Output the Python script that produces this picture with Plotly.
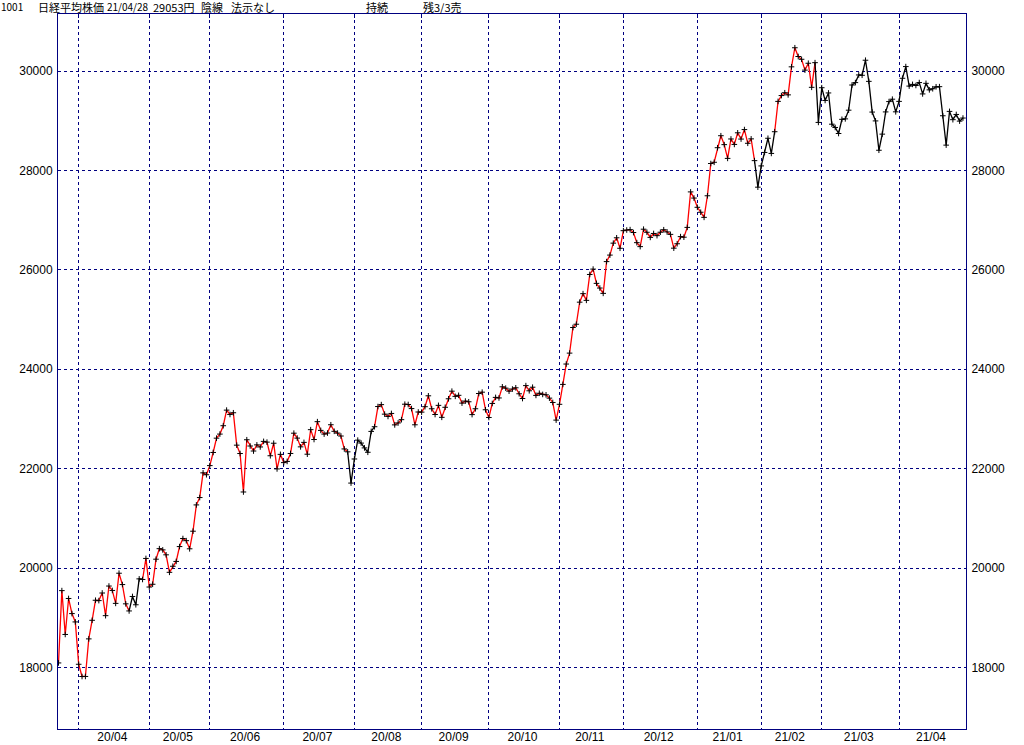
import plotly.graph_objects as go

dates = [
 "2020-03-24","2020-03-25","2020-03-26","2020-03-27","2020-03-30","2020-03-31",
 "2020-04-01","2020-04-02","2020-04-03","2020-04-06","2020-04-07","2020-04-08","2020-04-09","2020-04-10",
 "2020-04-13","2020-04-14","2020-04-15","2020-04-16","2020-04-17","2020-04-20","2020-04-21","2020-04-22",
 "2020-04-23","2020-04-24","2020-04-27","2020-04-28","2020-04-30",
 "2020-05-01","2020-05-07","2020-05-08","2020-05-11","2020-05-12","2020-05-13","2020-05-14","2020-05-15",
 "2020-05-18","2020-05-19","2020-05-20","2020-05-21","2020-05-22","2020-05-25","2020-05-26","2020-05-27",
 "2020-05-28","2020-05-29",
 "2020-06-01","2020-06-02","2020-06-03","2020-06-04","2020-06-05","2020-06-08","2020-06-09","2020-06-10",
 "2020-06-11","2020-06-12","2020-06-15","2020-06-16","2020-06-17","2020-06-18","2020-06-19","2020-06-22",
 "2020-06-23","2020-06-24","2020-06-25","2020-06-26","2020-06-29","2020-06-30",
 "2020-07-01","2020-07-02","2020-07-03","2020-07-06","2020-07-07","2020-07-08","2020-07-09","2020-07-10",
 "2020-07-13","2020-07-14","2020-07-15","2020-07-16","2020-07-17","2020-07-20","2020-07-21","2020-07-22",
 "2020-07-27","2020-07-28","2020-07-29","2020-07-30","2020-07-31",
 "2020-08-03","2020-08-04","2020-08-05","2020-08-06","2020-08-07","2020-08-11","2020-08-12","2020-08-13",
 "2020-08-14","2020-08-17","2020-08-18","2020-08-19","2020-08-20","2020-08-21","2020-08-24","2020-08-25",
 "2020-08-26","2020-08-27","2020-08-28","2020-08-31",
 "2020-09-01","2020-09-02","2020-09-03","2020-09-04","2020-09-07","2020-09-08","2020-09-09","2020-09-10",
 "2020-09-11","2020-09-14","2020-09-15","2020-09-16","2020-09-17","2020-09-18","2020-09-23","2020-09-24",
 "2020-09-25","2020-09-28","2020-09-29","2020-09-30",
 "2020-10-02","2020-10-05","2020-10-06","2020-10-07","2020-10-08","2020-10-09","2020-10-12","2020-10-13",
 "2020-10-14","2020-10-15","2020-10-16","2020-10-19","2020-10-20","2020-10-21","2020-10-22","2020-10-23",
 "2020-10-26","2020-10-27","2020-10-28","2020-10-29","2020-10-30",
 "2020-11-02","2020-11-04","2020-11-05","2020-11-06","2020-11-09","2020-11-10","2020-11-11","2020-11-12",
 "2020-11-13","2020-11-16","2020-11-17","2020-11-18","2020-11-19","2020-11-20","2020-11-24","2020-11-25",
 "2020-11-26","2020-11-27","2020-11-30",
 "2020-12-01","2020-12-02","2020-12-03","2020-12-04","2020-12-07","2020-12-08","2020-12-09","2020-12-10",
 "2020-12-11","2020-12-14","2020-12-15","2020-12-16","2020-12-17","2020-12-18","2020-12-21","2020-12-22",
 "2020-12-23","2020-12-24","2020-12-25","2020-12-28","2020-12-29","2020-12-30",
 "2021-01-04","2021-01-05","2021-01-06","2021-01-07","2021-01-08","2021-01-12","2021-01-13","2021-01-14",
 "2021-01-15","2021-01-18","2021-01-19","2021-01-20","2021-01-21","2021-01-22","2021-01-25","2021-01-26",
 "2021-01-27","2021-01-28","2021-01-29",
 "2021-02-01","2021-02-02","2021-02-03","2021-02-04","2021-02-05","2021-02-08","2021-02-09","2021-02-10",
 "2021-02-12","2021-02-15","2021-02-16","2021-02-17","2021-02-18","2021-02-19","2021-02-22","2021-02-24",
 "2021-02-25","2021-02-26",
 "2021-03-01","2021-03-02","2021-03-03","2021-03-04","2021-03-05","2021-03-08","2021-03-09","2021-03-10",
 "2021-03-11","2021-03-12","2021-03-15","2021-03-16","2021-03-17","2021-03-18","2021-03-19","2021-03-22",
 "2021-03-23","2021-03-24","2021-03-25","2021-03-26","2021-03-29","2021-03-30","2021-03-31",
 "2021-04-01","2021-04-02","2021-04-05","2021-04-06","2021-04-07","2021-04-08","2021-04-09","2021-04-12",
 "2021-04-13","2021-04-14","2021-04-15","2021-04-16","2021-04-19","2021-04-20","2021-04-21","2021-04-22",
 "2021-04-23","2021-04-26","2021-04-27","2021-04-28",
]

closes = [
 18092, 19547, 18665, 19389, 19085, 18917,
 18065, 17819, 17820, 18576, 18950, 19353, 19346, 19499, 19043, 19639, 19550, 19290, 19897, 19669,
 19281, 19138, 19429, 19262, 19783, 19771, 20194,
 19619, 19675, 20179, 20391, 20366, 20267, 19915, 20037, 20134, 20433, 20595, 20552, 20388, 20742,
 21271, 21419, 21916, 21878,
 22062, 22326, 22614, 22696, 22864, 23178, 23091, 23125, 22473, 22305, 21531, 22582, 22456, 22355,
 22479, 22437, 22549, 22534, 22260, 22512, 21995, 22288,
 22122, 22146, 22306, 22714, 22615, 22439, 22529, 22291, 22785, 22587, 22946, 22770, 22696, 22717,
 22884, 22752, 22716, 22657, 22397, 22339, 21710,
 22195, 22574, 22515, 22418, 22330, 22750, 22844, 23250, 23289, 23097, 23051, 23111, 22881, 22920,
 22986, 23297, 23291, 23209, 22883, 23140,
 23138, 23247, 23466, 23205, 23090, 23274, 23033, 23235, 23406, 23559, 23455, 23476, 23319, 23360,
 23346, 23088, 23205, 23512, 23539, 23185,
 23030, 23312, 23434, 23423, 23647, 23620, 23559, 23602, 23627, 23507, 23411, 23671, 23567, 23639,
 23474, 23517, 23494, 23486, 23419, 23332, 22977,
 23295, 23695, 24105, 24325, 24840, 24906, 25350, 25521, 25386, 25907, 26015, 25728, 25634, 25527,
 26166, 26297, 26537, 26645, 26434,
 26788, 26801, 26809, 26751, 26547, 26467, 26818, 26756, 26653, 26732, 26688, 26757, 26807, 26763,
 26714, 26436, 26525, 26668, 26657, 26854, 27568, 27444,
 27258, 27159, 27056, 27490, 28139, 28164, 28457, 28698, 28519, 28242, 28633, 28523, 28757, 28631,
 28822, 28546, 28635, 28197, 27663,
 28091, 28362, 28647, 28342, 28779, 29389, 29506, 29563, 29520, 30084, 30468, 30292, 30236, 30018,
 30156, 29672, 30168, 28966,
 29664, 29408, 29559, 28930, 28864, 28743, 29028, 29037, 29212, 29718, 29767, 29921, 29914, 30217,
 29792, 29174, 28996, 28406, 28730, 29177, 29385, 29433, 29179,
 29389, 29854, 30089, 29697, 29731, 29709, 29768, 29539, 29752, 29621, 29643, 29683, 29685, 29100,
 28509, 29188, 29021, 29126, 28992, 29054,
]

# periods where the line is drawn black (sell state); elsewhere red
black_spans = [
 ("2020-04-22", "2020-04-28"),
 ("2020-07-30", "2020-08-12"),
 ("2021-01-28", "2021-02-05"),
 ("2021-02-25", "2021-04-28"),
]

y_ticks = [18000, 20000, 22000, 24000, 26000, 28000, 30000]
y_ticktext = [str(v) for v in y_ticks]

header_parts = ["1001", "日経平均株価", "21/04/28", "29053円", "陰線", "法示なし", "持続", "残3/3売"]
header_px = [0, 37, 106, 152, 200, 230, 365, 422]

NAVY = "#000080"
N = len(dates)
idx = list(range(N))

def is_black(i):
    return any(s <= dates[i] and dates[i + 1] <= e for s, e in black_spans)

seg = {"red": ([], []), "black": ([], [])}
i = 0
while i < N - 1:
    b = is_black(i)
    j = i
    while j < N - 1 and is_black(j) == b:
        j += 1
    xs, ys = seg["black" if b else "red"]
    xs.extend(idx[i:j + 1] + [None])
    ys.extend(closes[i:j + 1] + [None])
    i = j

# month starts and month label centres
month_starts = [k for k in range(1, N) if dates[k][:7] != dates[k - 1][:7]]
centers, labels = [], []
bounds = month_starts + [N]
for a, b in zip(bounds[:-1], bounds[1:]):
    centers.append((a + b - 1) / 2)
    labels.append(dates[a][2:4] + "/" + dates[a][5:7])

L, R, T, B = 58, 58, 14, 16
W, H = 1024, 745
PW, PH = W - L - R, H - T - B
xr = [-0.15, 269.9]
yr = [16763, 31147]

fig = go.Figure()
fig.add_trace(go.Scatter(x=seg["red"][0], y=seg["red"][1], mode="lines",
                         line=dict(color="#FF0000", width=1.3), hoverinfo="skip",
                         connectgaps=False, showlegend=False))
fig.add_trace(go.Scatter(x=seg["black"][0], y=seg["black"][1], mode="lines",
                         line=dict(color="#000000", width=1.3), hoverinfo="skip",
                         connectgaps=False, showlegend=False))
fig.add_trace(go.Scatter(x=idx, y=closes, mode="markers", xaxis="x2", yaxis="y2",
                         marker=dict(symbol="cross-thin", size=4,
                                     line=dict(color="#000000", width=1)),
                         text=dates, showlegend=False))

tickfont = dict(family="Liberation Sans, Arial, sans-serif", size=12, color="#000000")

fig.update_layout(
    width=W, height=H,
    margin=dict(l=L, r=R, t=T, b=B, pad=0, autoexpand=False),
    paper_bgcolor="white", plot_bgcolor="white",
    showlegend=False,
    xaxis=dict(range=xr, tickmode="array", tickvals=centers, ticktext=labels,
               showgrid=False, zeroline=False, ticks="", tickfont=tickfont,
               showline=True, linecolor=NAVY, linewidth=1, automargin=False,
               ticklabelstandoff=-3,
               minor=dict(tickmode="array", tickvals=month_starts, showgrid=True,
                          gridcolor=NAVY, griddash="3px,3px", gridwidth=1, ticks="")),
    xaxis2=dict(range=xr, overlaying="x", side="top", tickmode="array",
                tickvals=month_starts, showticklabels=False, showgrid=False,
                zeroline=False, ticks="inside", ticklen=4, tickcolor=NAVY,
                showline=True, linecolor=NAVY, linewidth=1, automargin=False),
    yaxis=dict(range=yr, tickmode="array", tickvals=y_ticks, ticktext=y_ticktext,
               showgrid=True, gridcolor=NAVY, griddash="3px,3px", gridwidth=1,
               zeroline=False, ticks="", tickfont=tickfont, showline=True,
               linecolor=NAVY, linewidth=1, ticklabelstandoff=2, automargin=False),
    yaxis2=dict(range=yr, overlaying="y", side="right", tickmode="array",
                tickvals=y_ticks, ticktext=y_ticktext, showgrid=False, zeroline=False,
                ticks="", tickfont=tickfont, showline=True, linecolor=NAVY,
                linewidth=1, ticklabelstandoff=2, automargin=False),
)

for txt, px in zip(header_parts, header_px):
    fsize = 10 if txt.isascii() else 11
    fig.add_annotation(text=txt, xref="paper", yref="paper",
                       x=(px - L) / PW, y=(H - B - 7) / PH,
                       xanchor="left", yanchor="middle", showarrow=False,
                       borderpad=0,
                       font=dict(family="Noto Sans CJK JP", size=fsize, color="#000000"))

fig.write_html("out.html", config={"displayModeBar": False},
               post_script="document.body.style.margin='0';document.body.style.overflow='hidden';")
